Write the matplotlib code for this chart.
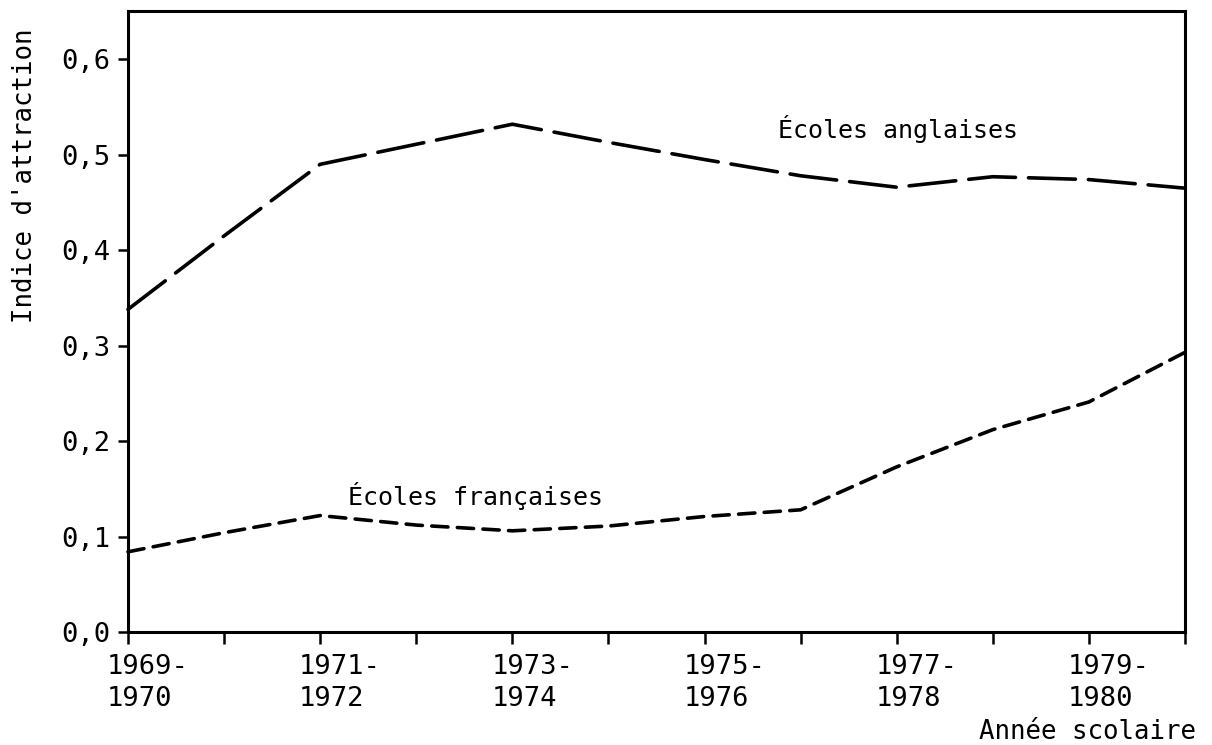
import numpy as np
import matplotlib
matplotlib.use("Agg")
import matplotlib.pyplot as plt
import matplotlib.transforms as mtrans

# annees scolaires 1969-1970 ... 1980-1981
annees = ["1969-\n1970", "", "1971-\n1972", "", "1973-\n1974", "",
          "1975-\n1976", "", "1977-\n1978", "", "1979-\n1980", ""]
anglaises = [0.338, 0.415, 0.490, 0.511, 0.532, 0.513,
             0.495, 0.478, 0.466, 0.477, 0.474, 0.465]
francaises = [0.084, 0.104, 0.122, 0.112, 0.106, 0.111,
              0.121, 0.128, 0.173, 0.212, 0.241, 0.293]
yticks = [0.0, 0.1, 0.2, 0.3, 0.4, 0.5, 0.6]

plt.rcParams['font.family'] = ['DejaVu Sans Mono', 'DejaVu Sans']

fig = plt.figure(figsize=(12.12, 7.45), dpi=100)
ax = fig.add_axes([0.1056, 0.1517, 0.8721, 0.8335])

x = np.arange(len(anglaises))
ax.plot(x, anglaises, color='black', lw=2.6, dashes=(13, 3.6),
        dash_capstyle='round', clip_on=False)
ax.plot(x, francaises, color='black', lw=2.6, dashes=(4.5, 2.6),
        dash_capstyle='round', clip_on=False)

ax.set_xlim(0, 11)
ax.set_ylim(0, 0.6506)

ax.set_yticks(yticks)
ax.set_yticklabels([('%.1f' % v).replace('.', ',') for v in yticks])
ax.set_xticks(x)
ax.set_xticklabels([])

# labels des annees decales a gauche du trait comme sur l'original
offset = mtrans.ScaledTranslation(-0.21, -0.22, fig.dpi_scale_trans)
for xi, lab in zip(x, annees):
    if lab:
        ax.text(xi, 0, lab, transform=ax.get_xaxis_transform() + offset,
                ha='left', va='top', fontsize=19.5, linespacing=1.3)

ax.tick_params(axis='y', direction='out', length=7, width=1.8,
               labelsize=19.5, pad=6)
ax.tick_params(axis='x', direction='out', length=8.5, width=1.8)

for s in ax.spines.values():
    s.set_linewidth(2.2)

ax.text(6.76, 0.527, "Écoles anglaises", fontsize=18, va='center')
ax.text(2.29, 0.142, "Écoles françaises", fontsize=18, va='center')

fig.text(25 / 1212, 1 - 176 / 745, "Indice d'attraction", fontsize=18.5,
         rotation=90, ha='center', va='center')
fig.text(1196 / 1212, 1 - 732 / 745, "Année scolaire", fontsize=18.5,
         ha='right', va='center')

plt.savefig("out.png", dpi=100)
